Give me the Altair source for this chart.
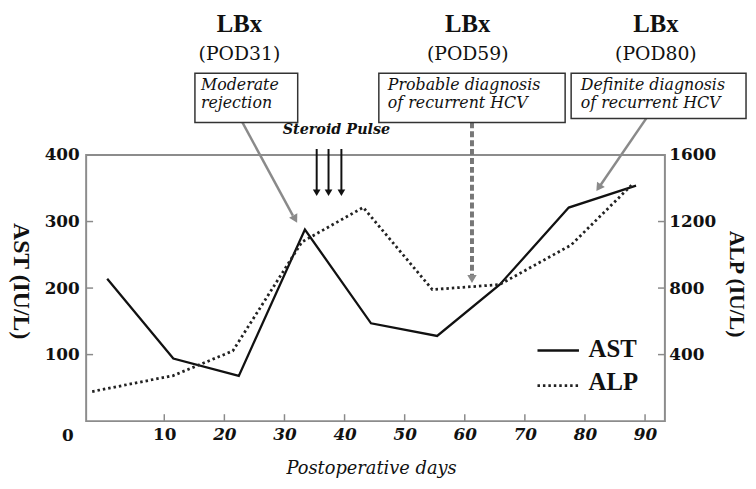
import altair as alt
import pandas as pd

# ---------------- data ----------------
days_ast = [0.5, 11.5, 22.4, 33.4, 44.4, 55.4, 65.8, 77.3, 88.5]
ast_values = [214, 94, 68, 288, 147, 128, 205, 321, 354]
days_alp = [-2.0, 11.5, 21.4, 32.9, 43.1, 54.6, 65.8, 77.7, 88.0]
alp_values = [178, 274, 422, 1077, 1285, 791, 821, 1059, 1428]

x_ticks = [10, 20, 30, 40, 50, 60, 70, 80, 90]
ast_ticks = [0, 100, 200, 300, 400]
alp_ticks = [400, 800, 1200, 1600]

X_DOMAIN = [-3, 93.3]
AST_DOMAIN = [0, 400]
ALP_DOMAIN = [0, 1600]

# annotations (in data units: day, AST scale)
lbx_text = ["LBx", "LBx", "LBx"]
pod_text = ["(POD31)", "(POD59)", "(POD80)"]
lbx_x = [22.5, 60.5, 91.8]
lbx_y = 597
pod_y = 551

box_x = [15.1, 45.7, 77.7]
box_x2 = [32.2, 76.7, 106.8]
box_y = [449, 449, 455]
box_y2 = [523, 523, 523]
box_text_x = [16.1, 47.2, 79.3]
box_line1 = ["Moderate", "Probable diagnosis", "Definite diagnosis"]
box_line2 = ["rejection", "of recurrent HCV", "of recurrent HCV"]
line1_y = 505.6
line2_y = 478.8

steroid_text = ["Steroid Pulse"]
steroid_x = [38.65]
steroid_y = [437.5]

arrow_kind = ["gray", "dashed", "gray", "black", "black", "black"]
arrow_x = [23.0, 61.2, 90.2, 35.36, 37.33, 39.47]
arrow_y = [449, 449, 455, 409, 409, 409]
arrow_x2 = [31.4, 61.2, 82.6, 35.36, 37.33, 39.47]
arrow_y2 = [309, 219, 355, 346, 346, 346]
head_x = [31.67, 61.2, 82.4, 35.36, 37.33, 39.47]
head_y = [305.4, 215.6, 352.6, 345, 345, 345]
head_angle = [151, 180, 214, 180, 180, 180]

legend_names = ["AST", "ALP"]
legend_line_x = [72.1, 72.1]
legend_line_x2 = [79.0, 79.0]
legend_line_y = [106, 53.5]
legend_text_x = [80.6, 80.6]
legend_text_y = [108.6, 58]

# ---------------- tables ----------------
ast_df = pd.DataFrame({"day": days_ast, "AST": ast_values})
alp_df = pd.DataFrame({"day": days_alp, "ALP": alp_values})
lbx_df = pd.DataFrame({"x": lbx_x, "t1": lbx_text, "t2": pod_text,
                       "y1": [lbx_y] * 3, "y2": [pod_y] * 3})
box_df = pd.DataFrame({"x": box_x, "x2": box_x2, "y": box_y, "y2": box_y2,
                       "tx": box_text_x, "l1": box_line1, "l2": box_line2,
                       "ly1": [line1_y] * 3, "ly2": [line2_y] * 3})
steroid_df = pd.DataFrame({"x": steroid_x, "y": steroid_y, "t": steroid_text})
arrow_df = pd.DataFrame({"kind": arrow_kind, "x": arrow_x, "y": arrow_y,
                         "x2": arrow_x2, "y2": arrow_y2, "hx": head_x,
                         "hy": head_y, "angle": head_angle})
legend_df = pd.DataFrame({"name": legend_names, "x": legend_line_x,
                          "x2": legend_line_x2, "y": legend_line_y,
                          "tx": legend_text_x, "ty": legend_text_y})
xt_df = pd.DataFrame({"v": x_ticks})
lt_df = pd.DataFrame({"v": ast_ticks[1:4]})
rt_df = pd.DataFrame({"v": alp_ticks[:3]})

SERIF = "Liberation Serif"
WIDE = "DejaVu Serif"
GRAY = "#8a8a8a"
INK = "#111111"

xs = alt.Scale(domain=X_DOMAIN, nice=False, zero=False)
ys = alt.Scale(domain=AST_DOMAIN, nice=False, zero=False)
ys2 = alt.Scale(domain=ALP_DOMAIN, nice=False, zero=False)

x_axis = alt.Axis(
    values=x_ticks, grid=False, domain=False, ticks=False, tickSize=0,
    labelFont=WIDE, labelFontSize=17, labelFontWeight="bold",
    labelFontStyle={"condition": {"test": "datum.value === 10", "value": "normal"}, "value": "italic"},
    labelColor=INK, labelPadding=6,
    title="Postoperative days", titleFont=WIDE, titleFontSize=18,
    titleFontStyle="italic", titleFontWeight="normal", titleColor=INK,
    titleX=288, titleY=48, titleAlign="center", titleBaseline="middle",
)

y_axis = alt.Axis(
    values=ast_ticks, grid=False, domain=False, ticks=False, tickSize=0,
    labelFont=WIDE, labelFontSize=17, labelFontWeight="bold", labelColor=INK,
    labelPadding={"condition": {"test": "datum.value === 0", "value": 13}, "value": 7},
    labelBaseline={"condition": {"test": "datum.value === 0", "value": "top"}, "value": "middle"},
    labelOffset={"condition": {"test": "datum.value === 0", "value": 7}, "value": 0},
    title="AST (IU/L)", titleFont=SERIF, titleFontSize=24, titleFontWeight="bold",
    titleColor=INK, titleAngle=90, titleX=-66, titleY=127,
    titleAlign="center", titleBaseline="middle",
)

y2_axis = alt.Axis(
    orient="right", values=alp_ticks, format="d", grid=False, domain=False,
    ticks=False, tickSize=0,
    labelFont=WIDE, labelFontSize=17, labelFontWeight="bold", labelColor=INK,
    labelPadding=4, labelAlign="left",
    title="ALP (IU/L)", titleFont=SERIF, titleFontSize=22, titleFontWeight="bold",
    titleColor=INK, titleAngle=90, titleX=72, titleY=130,
    titleAlign="center", titleBaseline="middle",
)


def X(f):
    return alt.X(f, type="quantitative", scale=xs, axis=x_axis)


def Y(f):
    return alt.Y(f, type="quantitative", scale=ys, axis=y_axis)


def Y2(f):
    return alt.Y(f, type="quantitative", scale=ys2, axis=y2_axis)


ast_line = alt.Chart(ast_df).mark_line(color=INK, strokeWidth=2.3).encode(
    x=X("day"), y=Y("AST"))

alp_line = alt.Chart(alp_df).mark_line(
    color="#222222", strokeWidth=2.8, strokeDash=[2.5, 3]
).encode(x=X("day"), y=Y2("ALP"))

# inward ticks
left_ticks = alt.Chart(lt_df).mark_rule(color=GRAY, strokeWidth=1.5).encode(
    y=Y("v"), x=alt.value(0), x2=alt.value(7))
right_ticks = alt.Chart(rt_df).mark_rule(color=GRAY, strokeWidth=1.5).encode(
    y=Y2("v"), x=alt.value(578), x2=alt.value(585))
bottom_ticks = alt.Chart(xt_df).mark_rule(color=GRAY, strokeWidth=1.5).encode(
    x=X("v"), y=alt.value(269), y2=alt.value(262))

# arrows
shafts_gray = alt.Chart(arrow_df).transform_filter("datum.kind === 'gray'").mark_rule(
    color=GRAY, strokeWidth=2.5).encode(x=X("x"), y=Y("y"), x2="x2", y2="y2")
shafts_dash = alt.Chart(arrow_df).transform_filter("datum.kind === 'dashed'").mark_rule(
    color="#777777", strokeWidth=4, strokeDash=[6, 3]).encode(x=X("x"), y=Y("y"), x2="x2", y2="y2")
shafts_black = alt.Chart(arrow_df).transform_filter("datum.kind === 'black'").mark_rule(
    color=INK, strokeWidth=2).encode(x=X("x"), y=Y("y"), x2="x2", y2="y2")
heads_gray = alt.Chart(arrow_df).transform_filter("datum.kind !== 'black'").mark_point(
    shape="triangle", filled=True, size=90, color=GRAY, opacity=1).encode(
    x=X("hx"), y=Y("hy"), angle=alt.Angle("angle:Q", scale=None))
heads_black = alt.Chart(arrow_df).transform_filter("datum.kind === 'black'").mark_point(
    shape="triangle", filled=True, size=60, color=INK, opacity=1).encode(
    x=X("hx"), y=Y("hy"), angle=alt.Angle("angle:Q", scale=None))

# boxes and texts
boxes = alt.Chart(box_df).mark_rect(fill="white", stroke="#333333", strokeWidth=1.5).encode(
    x=X("x"), x2="x2", y=Y("y"), y2="y2")
box_t1 = alt.Chart(box_df).mark_text(
    font=WIDE, fontSize=16, fontStyle="italic", align="left", baseline="middle", color=INK
).encode(x=X("tx"), y=Y("ly1"), text="l1:N")
box_t2 = alt.Chart(box_df).mark_text(
    font=WIDE, fontSize=16, fontStyle="italic", align="left", baseline="middle", color=INK
).encode(x=X("tx"), y=Y("ly2"), text="l2:N")

lbx_t = alt.Chart(lbx_df).mark_text(
    font=SERIF, fontSize=25, fontWeight="bold", align="center", baseline="middle", color=INK
).encode(x=X("x"), y=Y("y1"), text="t1:N")
pod_t = alt.Chart(lbx_df).mark_text(
    font=WIDE, fontSize=19, align="center", baseline="middle", color=INK
).encode(x=X("x"), y=Y("y2"), text="t2:N")

steroid_t = alt.Chart(steroid_df).mark_text(
    font=WIDE, fontSize=14.5, fontStyle="italic", fontWeight="bold",
    align="center", baseline="middle", color=INK
).encode(x=X("x"), y=Y("y"), text="t:N")

# legend
leg_ast = alt.Chart(legend_df).transform_filter("datum.name === 'AST'").mark_rule(
    color=INK, strokeWidth=2.5).encode(x=X("x"), x2="x2", y=Y("y"))
leg_alp = alt.Chart(legend_df).transform_filter("datum.name === 'ALP'").mark_rule(
    color="#222222", strokeWidth=2.8, strokeDash=[2.5, 3]).encode(x=X("x"), x2="x2", y=Y("y"))
leg_text = alt.Chart(legend_df).mark_text(
    font=SERIF, fontSize=25, fontWeight="bold", align="left", baseline="middle", color=INK
).encode(x=X("tx"), y=Y("ty"), text="name:N")

left = alt.layer(
    ast_line, left_ticks, bottom_ticks,
    shafts_gray, shafts_dash, shafts_black, heads_gray, heads_black,
    boxes, box_t1, box_t2, lbx_t, pod_t, steroid_t,
    leg_ast, leg_alp, leg_text,
)
right = alt.layer(alp_line, right_ticks)

chart = alt.layer(left, right).resolve_scale(y="independent").properties(
    width=585, height=269,
    autosize=alt.AutoSizeParams(type="none"),
    padding={"left": 79, "top": 146, "right": 84, "bottom": 66},
    background="white",
).configure_view(stroke="#8c8c8c", strokeWidth=2)

chart.save("out.html", embed_options={"renderer": "svg", "actions": False})
